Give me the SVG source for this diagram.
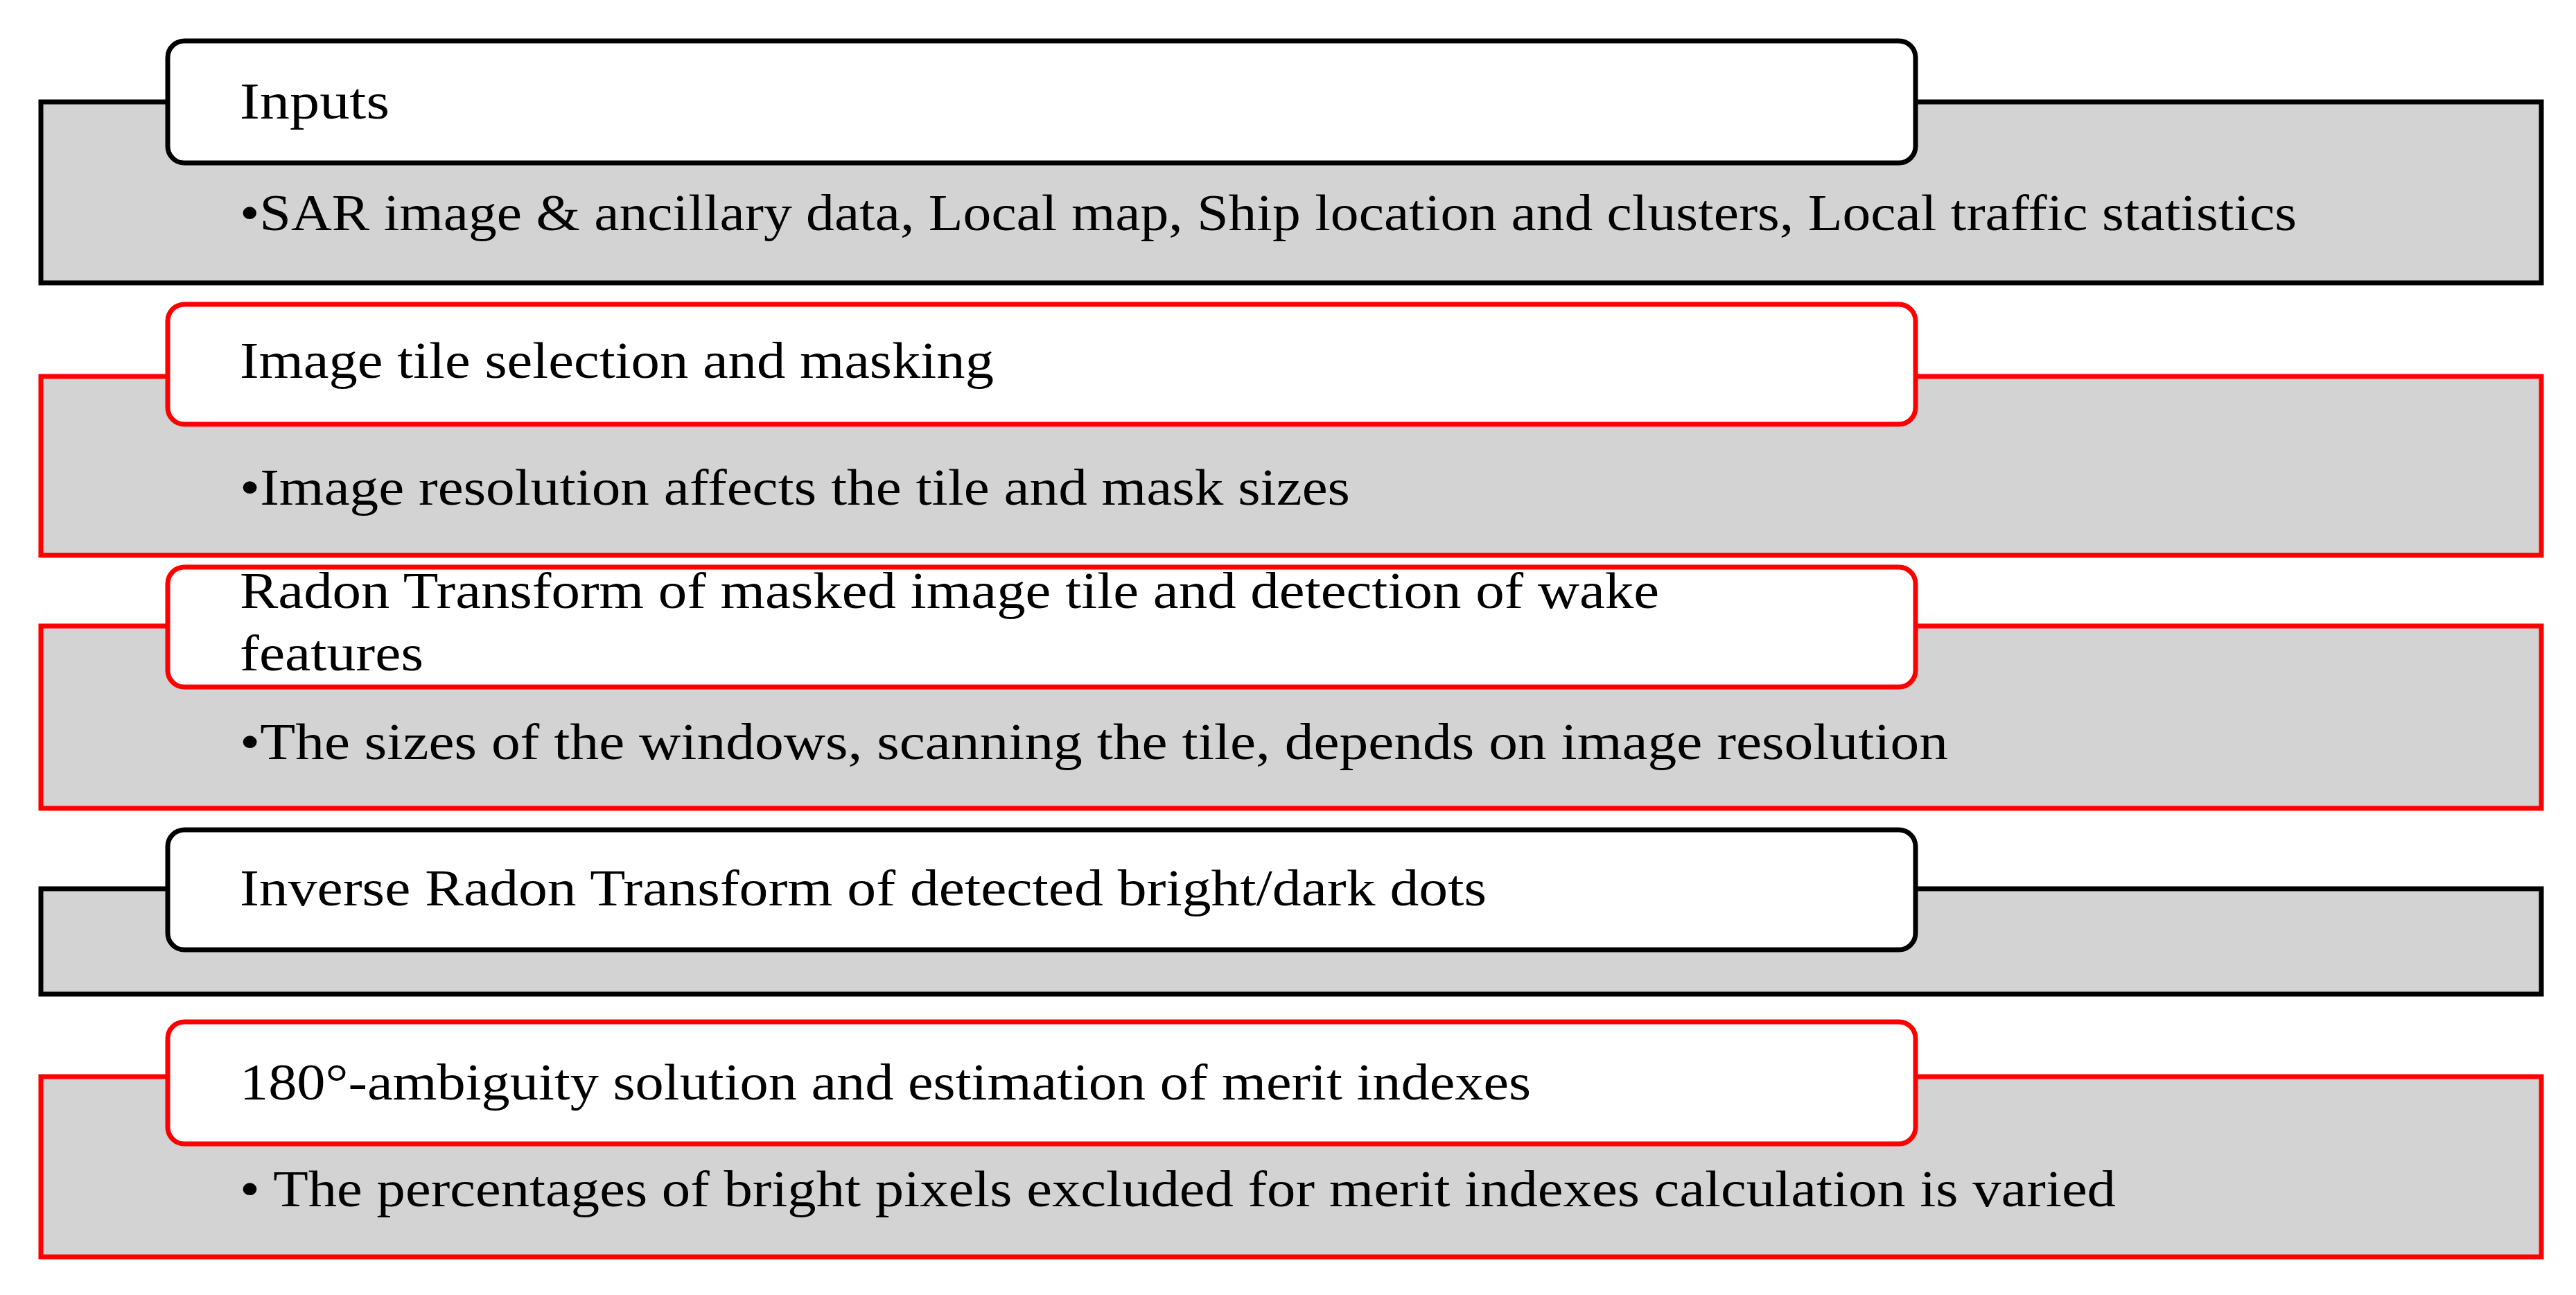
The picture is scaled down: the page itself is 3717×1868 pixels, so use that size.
<svg xmlns="http://www.w3.org/2000/svg" width="3717" height="1868" viewBox="0 0 3717 1868">
<style>
.g{fill:#d3d3d3;stroke-width:7}
.h{fill:#fff;stroke-width:7}
.k{stroke:#000}.r{stroke:#ff0000}
text{font-family:"Liberation Serif","Times New Roman",serif;font-size:74px;fill:#000}
</style>
<rect width="3717" height="1868" fill="#fff"/>
<g id="n1">
<rect class="g k" x="59" y="147" width="3608" height="261"/>
<rect class="h k" x="242" y="59" width="2522" height="176" rx="24"/>
<text x="346" y="171" textLength="216" lengthAdjust="spacingAndGlyphs">Inputs</text>
<text x="346" y="332" textLength="2968" lengthAdjust="spacingAndGlyphs">•SAR image &amp; ancillary data, Local map, Ship location and clusters, Local traffic statistics</text>
</g>
<g id="n2">
<rect class="g r" x="59" y="543" width="3608" height="258"/>
<rect class="h r" x="242" y="439" width="2522" height="173" rx="24"/>
<text x="346" y="545" textLength="1088" lengthAdjust="spacingAndGlyphs">Image tile selection and masking</text>
<text x="346" y="728" textLength="1602" lengthAdjust="spacingAndGlyphs">•Image resolution affects the tile and mask sizes</text>
</g>
<g id="n3">
<rect class="g r" x="59" y="903" width="3608" height="263"/>
<rect class="h r" x="242" y="818" width="2522" height="173" rx="24"/>
<text x="346" y="877" textLength="2048" lengthAdjust="spacingAndGlyphs">Radon Transform of masked image tile and detection of wake</text>
<text x="346" y="967" textLength="265" lengthAdjust="spacingAndGlyphs">features</text>
<text x="346" y="1095" textLength="2465" lengthAdjust="spacingAndGlyphs">•The sizes of the windows, scanning the tile, depends on image resolution</text>
</g>
<g id="n4">
<rect class="g k" x="59" y="1282" width="3608" height="152"/>
<rect class="h k" x="242" y="1197" width="2522" height="173" rx="24"/>
<text x="346" y="1306" textLength="1799" lengthAdjust="spacingAndGlyphs">Inverse Radon Transform of detected bright/dark dots</text>
</g>
<g id="n5">
<rect class="g r" x="59" y="1553" width="3608" height="260"/>
<rect class="h r" x="242" y="1474" width="2522" height="176" rx="24"/>
<text x="346" y="1586" textLength="1863" lengthAdjust="spacingAndGlyphs">180°-ambiguity solution and estimation of merit indexes</text>
<text x="346" y="1740" textLength="2707" lengthAdjust="spacingAndGlyphs">• The percentages of bright pixels excluded for merit indexes calculation is varied</text>
</g>
<g id="connectors"/>
</svg>
